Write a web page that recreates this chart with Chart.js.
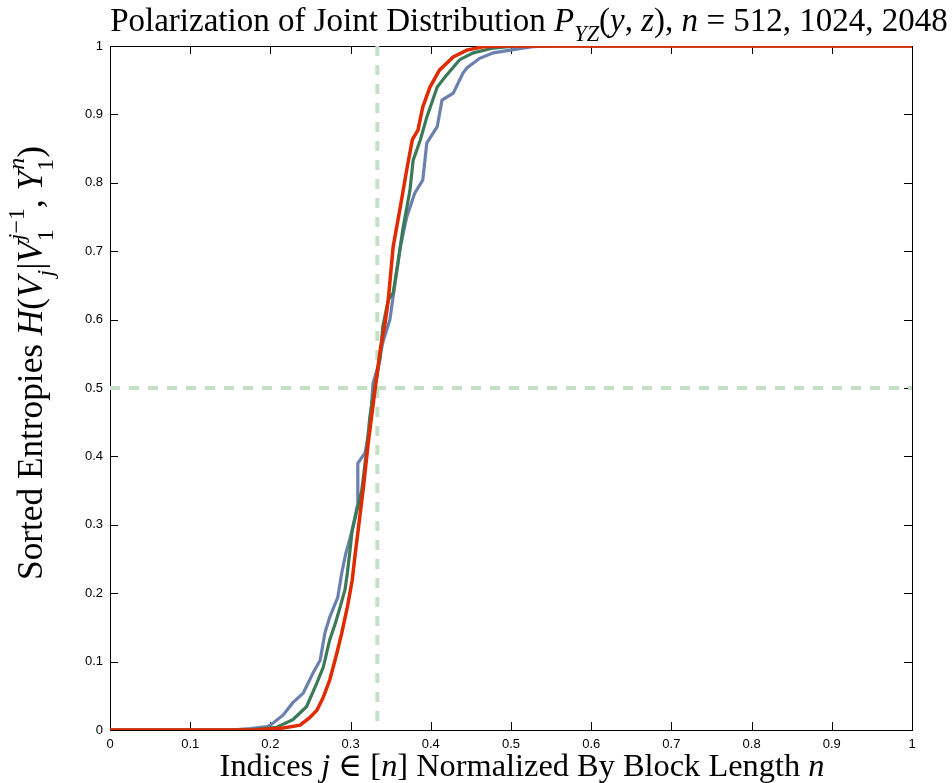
<!DOCTYPE html>
<html>
<head>
<meta charset="utf-8">
<script src="https://cdn.jsdelivr.net/npm/chart.js@4"></script>
<style>
  html, body { margin: 0; padding: 0; background: #fff; }
  #wrap { width: 952px; height: 783px; }
</style>
</head>
<body>
<div id="wrap"><canvas id="polar-chart"></canvas></div>
<script>
// sorted entropies, n = 512
var blueX = [0, 0.15, 0.175, 0.196, 0.2, 0.216, 0.228, 0.241, 0.253, 0.262, 0.268, 0.274, 0.284, 0.289, 0.294, 0.302, 0.308, 0.309, 0.318, 0.324, 0.328, 0.334, 0.34, 0.349, 0.352, 0.362, 0.37, 0.38, 0.39, 0.395, 0.408, 0.414, 0.428, 0.44, 0.445, 0.461, 0.478, 0.499, 0.527, 0.55, 1];
var blueY = [0, 0, 0.002, 0.005, 0.007, 0.022, 0.04, 0.054, 0.083, 0.102, 0.142, 0.165, 0.194, 0.23, 0.258, 0.292, 0.326, 0.39, 0.405, 0.443, 0.507, 0.531, 0.566, 0.6, 0.625, 0.706, 0.75, 0.785, 0.804, 0.858, 0.882, 0.921, 0.931, 0.96, 0.968, 0.982, 0.99, 0.994, 0.999, 1, 1];
// n = 1024
var greenX = [0, 0.17, 0.208, 0.228, 0.245, 0.258, 0.266, 0.274, 0.281, 0.287, 0.293, 0.296, 0.299, 0.302, 0.314, 0.32, 0.324, 0.33, 0.337, 0.34, 0.347, 0.353, 0.359, 0.365, 0.374, 0.378, 0.387, 0.395, 0.408, 0.418, 0.428, 0.436, 0.453, 0.478, 0.507, 1];
var greenY = [0, 0, 0.004, 0.015, 0.034, 0.069, 0.092, 0.132, 0.156, 0.18, 0.205, 0.23, 0.26, 0.292, 0.351, 0.409, 0.458, 0.501, 0.545, 0.589, 0.629, 0.639, 0.683, 0.731, 0.789, 0.833, 0.863, 0.896, 0.94, 0.955, 0.969, 0.98, 0.99, 0.997, 1, 1];
// n = 2048
var redX = [0, 0.18, 0.216, 0.237, 0.249, 0.258, 0.266, 0.274, 0.283, 0.289, 0.296, 0.302, 0.306, 0.309, 0.316, 0.322, 0.33, 0.337, 0.343, 0.347, 0.353, 0.362, 0.37, 0.377, 0.384, 0.39, 0.399, 0.411, 0.428, 0.445, 0.465, 0.49, 1];
var redY = [0, 0, 0.003, 0.007, 0.018, 0.029, 0.048, 0.073, 0.113, 0.142, 0.18, 0.219, 0.26, 0.288, 0.355, 0.42, 0.493, 0.556, 0.595, 0.629, 0.706, 0.765, 0.819, 0.863, 0.877, 0.911, 0.94, 0.965, 0.984, 0.994, 0.999, 1, 1];

// reference lines
var refX = 1 / 3;
var refY = 0.5;
var tickValues = [0, 0.1, 0.2, 0.3, 0.4, 0.5, 0.6, 0.7, 0.8, 0.9, 1];

function toPoints(xs, ys) {
    return xs.map(function (x, i) { return { x: x, y: ys[i] }; });
}

// rich text (italic, sub/superscripts) for the LaTeX-like labels
var SERIF = '"Liberation Serif", "DejaVu Serif", serif';
var titleSegs = [
    { t: 'Polarization of Joint Distribution ' }, { t: 'P', i: 1 }, { t: 'YZ', i: 1, d: 'sub' },
    { t: '(' }, { t: 'y', i: 1 }, { t: ', ' }, { t: 'z', i: 1 }, { t: '), ' }, { t: 'n', i: 1 },
    { t: ' = 512, 1024, 2048' }
];
var xLabelSegs = [
    { t: 'Indices ' }, { t: 'j', i: 1 }, { t: ' \u2208 [' }, { t: 'n', i: 1 },
    { t: '] Normalized By Block Length ' }, { t: 'n', i: 1 }
];
var yLabelSegs = [
    { t: 'Sorted Entropies ' }, { t: 'H', i: 1 }, { t: '(' }, { t: 'V', i: 1 }, { t: 'j', i: 1, d: 'sub' },
    { t: '|' }, { t: 'V', i: 1 }, { t: '1', d: 'sub', keep: 1 }, { t: 'j', i: 1, d: 'sup' }, { t: '\u22121', d: 'sup' },
    { t: ', ' }, { t: 'Y', i: 1 }, { t: '1', d: 'sub', keep: 1 }, { t: 'n', i: 1, d: 'sup' }, { t: ')' }
];

function segFont(s, size) {
    var sz = s.d ? size * 0.68 : size;
    return (s.i ? 'italic ' : '') + sz + 'px ' + SERIF;
}
function richWidth(ctx, segs, size) {
    var w = 0;
    segs.forEach(function (s) {
        ctx.font = segFont(s, size);
        if (!s.keep) w += ctx.measureText(s.t).width;
    });
    return w;
}
function drawRich(ctx, segs, targetW, cx, baseY) {
    var size = 20 * targetW / richWidth(ctx, segs, 20);
    var x = cx - richWidth(ctx, segs, size) / 2;
    ctx.fillStyle = '#000';
    ctx.textAlign = 'left';
    ctx.textBaseline = 'alphabetic';
    segs.forEach(function (s) {
        ctx.font = segFont(s, size);
        var dy = s.d === 'sub' ? size * 0.3 : (s.d === 'sup' ? -size * 0.52 : 0);
        ctx.fillText(s.t, x, baseY + dy);
        if (!s.keep) x += ctx.measureText(s.t).width;
        else x += 1;
    });
}

var frameAndLabels = {
    id: 'frameAndLabels',
    beforeDatasetsDraw: function (chart) {
        var ctx = chart.ctx, a = chart.chartArea;
        var xs = chart.scales.x, ys = chart.scales.y;
        ctx.save();
        ctx.strokeStyle = '#000';
        ctx.lineWidth = 1;
        ctx.strokeRect(Math.round(a.left) + 0.5, Math.round(a.top) + 0.5, Math.round(a.right - a.left), Math.round(a.bottom - a.top));
        ctx.beginPath();
        tickValues.forEach(function (v) {
            var px = Math.round(xs.getPixelForValue(v)) + 0.5;
            ctx.moveTo(px, a.bottom); ctx.lineTo(px, a.bottom - 8);
            ctx.moveTo(px, a.top); ctx.lineTo(px, a.top + 8);
            var py = Math.round(ys.getPixelForValue(v)) + 0.5;
            ctx.moveTo(a.left, py); ctx.lineTo(a.left + 8, py);
            ctx.moveTo(a.right, py); ctx.lineTo(a.right - 8, py);
        });
        ctx.stroke();
        ctx.restore();
    },
    afterDraw: function (chart) {
        var ctx = chart.ctx;
        ctx.save();
        drawRich(ctx, titleSegs, 838, 529, 31);
        drawRich(ctx, xLabelSegs, 605, 522, 776);
        ctx.translate(42, 364);
        ctx.rotate(-Math.PI / 2);
        drawRich(ctx, yLabelSegs, 432, 0, 0);
        ctx.restore();
    }
};

var dashStyle = {
    borderColor: '#c3e0c5',
    borderWidth: 4,
    borderDash: [10, 9],
    pointRadius: 0,
    fill: false,
    order: 3
};

new Chart(document.getElementById('polar-chart'), {
    type: 'line',
    data: {
        datasets: [
            {
                label: 'n = 2048',
                data: toPoints(redX, redY),
                borderColor: '#e02a00',
                borderWidth: 3.5,
                pointRadius: 0,
                tension: 0,
                order: 0
            },
            {
                label: 'n = 1024',
                data: toPoints(greenX, greenY),
                borderColor: '#3b7a58',
                borderWidth: 3.2,
                pointRadius: 0,
                tension: 0,
                order: 1
            },
            {
                label: 'n = 512',
                data: toPoints(blueX, blueY),
                borderColor: '#6c80b0',
                borderWidth: 3.2,
                pointRadius: 0,
                tension: 0,
                order: 2
            },
            Object.assign({ label: 'j/n = 1/3', data: [{ x: refX, y: 1 }, { x: refX, y: 0 }] }, dashStyle),
            Object.assign({ label: 'H = 1/2', data: [{ x: 0, y: refY }, { x: 1, y: refY }] }, dashStyle)
        ]
    },
    options: {
        responsive: true,
        maintainAspectRatio: false,
        animation: false,
        events: [],
        layout: { padding: { top: 46, right: 40, left: 0, bottom: 0 } },
        plugins: {
            legend: { display: false },
            title: { display: false },
            tooltip: { enabled: false }
        },
        scales: {
            x: {
                type: 'linear',
                min: 0,
                max: 1,
                afterFit: function (scale) { scale.height = 53; },
                afterBuildTicks: function (scale) {
                    scale.ticks = tickValues.map(function (v) { return { value: v }; });
                },
                grid: { display: false, drawTicks: false },
                border: { display: false },
                ticks: {
                    padding: 7,
                    maxRotation: 0,
                    color: '#000',
                    font: { family: '"Liberation Sans", Arial, sans-serif', size: 13 },
                    callback: function (v) { return +v.toFixed(1); }
                }
            },
            y: {
                type: 'linear',
                min: 0,
                max: 1,
                afterFit: function (scale) { scale.width = 110; },
                afterBuildTicks: function (scale) {
                    scale.ticks = tickValues.map(function (v) { return { value: v }; });
                },
                grid: { display: false, drawTicks: false },
                border: { display: false },
                ticks: {
                    padding: 7,
                    color: '#000',
                    font: { family: '"Liberation Sans", Arial, sans-serif', size: 13 },
                    callback: function (v) { return +v.toFixed(1); }
                }
            }
        }
    },
    plugins: [frameAndLabels]
});
</script>
</body>
</html>
